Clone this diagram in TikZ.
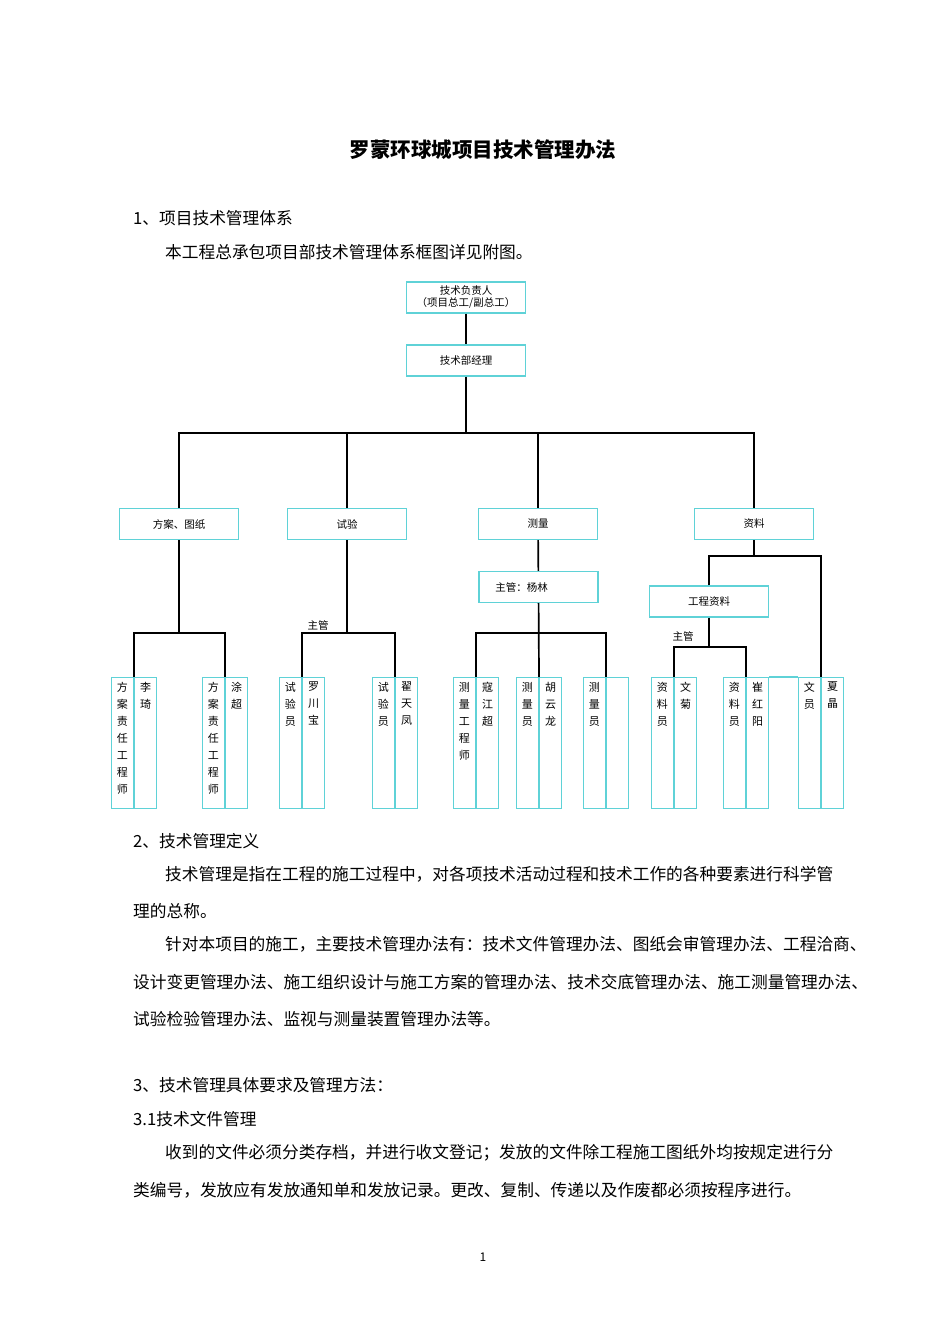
\documentclass[tikz,border=0pt]{standalone}
\usepackage{fontspec}
\setmainfont{Noto Sans CJK SC}
\usetikzlibrary{positioning,calc}
\definecolor{BoxCyan}{RGB}{95,210,215}

\tikzset{
  box/.style={draw=BoxCyan,line width=1.4pt,minimum width=119pt,minimum height=31pt,
    inner sep=1pt,font=\fontsize{10.5}{12}\selectfont,align=center},
  col/.style={draw=BoxCyan,line width=1.2pt,minimum width=22pt,minimum height=131pt,inner sep=0pt},
  vlabel/.style={anchor=north,yshift=-5pt,inner sep=0pt,align=center,
    font=\fontsize{11}{17}\selectfont},
  conn/.style={draw=black,line width=1.7pt},
  body/.style={anchor=west,inner sep=0pt,font=\fontsize{16.7}{20}\selectfont},
}

% one member: two narrow columns meeting at x = #2
\newcommand\member[4]{%
  \node[col,anchor=north east] (#1l) at (#2,-677) {};
  \node[col,anchor=north west] (#1r) at (#2,-677) {};
  \node[vlabel] at (#1l.north) {#3};
  \node[vlabel] at (#1r.north) {#4};
}

\begin{document}
\begin{tikzpicture}[x=1pt,y=1pt]
  \useasboundingbox (0,0) rectangle (950,-1344);

  % title and first section
  \node[font=\fontsize{20.5}{24}\selectfont\bfseries] (title) at (483,-150) {罗蒙环球城项目技术管理办法};
  \node[body] (s1) at (133,-218) {1、项目技术管理体系};
  \node[body] (p1) at (165,-252) {本工程总承包项目部技术管理体系框图详见附图。};

  % chart boxes
  \node[box] (chief) at (466,-297.5) {技术负责人\\（项目总工/副总工）};
  \node[box] (mgr) at (466,-360.5) {技术部经理};
  \node[box] (plan) at (179,-524) {方案、图纸};
  \node[box] (test) at (347,-524) {试验};
  \node[box] (survey) at (538,-524) {测量};
  \node[box] (docs) at (754,-524) {资料};
  \node[box,align=left] (yang) at (538.5,-587) {主管：杨林\hspace{3.2em}};
  \node[box] (engdocs) at (709,-601.5) {工程资料};

  \member{li}{134}{方\\案\\责\\任\\工\\程\\师}{李\\琦}
  \member{tu}{225}{方\\案\\责\\任\\工\\程\\师}{涂\\超}
  \member{luo}{302}{试\\验\\员}{罗\\川\\宝}
  \member{zhai}{395}{试\\验\\员}{翟\\天\\凤}
  \member{kou}{476}{测\\量\\工\\程\\师}{寇\\江\\超}
  \member{hu}{539}{测\\量\\员}{胡\\云\\龙}
  \member{sv}{606}{测\\量\\员}{}
  \member{wen}{674}{资\\料\\员}{文\\菊}
  \member{cui}{746}{资\\料\\员}{崔\\红\\阳}
  \member{xia}{821}{文\\员}{夏\\晶}

  % junctions
  \coordinate (top) at (466,-433);
  \coordinate (planbar) at (179,-633);
  \coordinate (testbar) at (347,-633);
  \coordinate (svbar) at (538,-633);
  \coordinate (docbar) at (754,-556);
  \coordinate (edbar) at (709,-647);

  % connectors
  \draw[conn] (chief) -- (mgr);
  \draw[conn] (mgr) -- (top);
  \draw[conn] (top) -| (plan.north);
  \draw[conn] (top) -| (test.north);
  \draw[line width=1.2pt] (top) -| (survey.north);
  \draw[line width=1.2pt] (top) -| (docs.north);
  \draw[conn] (plan) -- (planbar);
  \draw[conn] (lil.north east) |- (planbar) -| (tul.north east);
  \draw[conn] (test) -- (testbar);
  \draw[conn] (luol.north east) |- (testbar) -| (zhail.north east);
  \node[font=\fontsize{10.5}{12}\selectfont,anchor=south] (testlead) at (318,-634) {主管};
  \draw[conn] (survey) -- (yang);
  \draw[conn] (yang) -- (hul.north east);
  \draw[conn] (koul.north east) |- (svbar);
  \draw[line width=1.2pt] (svbar) -| (svl.north east);
  \draw[conn] (docs) -- (docbar);
  \draw[conn] (engdocs.north) |- (docbar) -| (xial.north east);
  \draw[conn] (engdocs) -- (edbar);
  \draw[conn] (wenl.north east) |- (edbar) -| (cuil.north east);
  \node[font=\fontsize{10.5}{12}\selectfont,anchor=south] (doclead) at (683,-645) {主管};
  \draw[draw=BoxCyan,line width=1.2pt] (cuir.north east) -- (xial.north west);

  % text below the chart
  \node[body] (s2) at (133,-841) {2、技术管理定义};
  \node[body] (l1) at (165,-874) {技术管理是指在工程的施工过程中，对各项技术活动过程和技术工作的各种要素进行科学管};
  \node[body] (l2) at (133,-911) {理的总称。};
  \node[body] (l3) at (165,-944) {针对本项目的施工，主要技术管理办法有：技术文件管理办法、图纸会审管理办法、工程洽商、};
  \node[body] (l4) at (133,-982) {设计变更管理办法、施工组织设计与施工方案的管理办法、技术交底管理办法、施工测量管理办法、};
  \node[body] (l5) at (133,-1019) {试验检验管理办法、监视与测量装置管理办法等。};
  \node[body] (s3) at (133,-1085) {3、技术管理具体要求及管理方法：};
  \node[body] (s31) at (133,-1119) {3.1技术文件管理};
  \node[body] (l6) at (165,-1153) {收到的文件必须分类存档，并进行收文登记；发放的文件除工程施工图纸外均按规定进行分};
  \node[body] (l7) at (133,-1190) {类编号，发放应有发放通知单和发放记录。更改、复制、传递以及作废都必须按程序进行。};
  \node[font=\fontsize{12}{14}\selectfont] (page) at (483,-1257) {1};
\end{tikzpicture}
\end{document}
